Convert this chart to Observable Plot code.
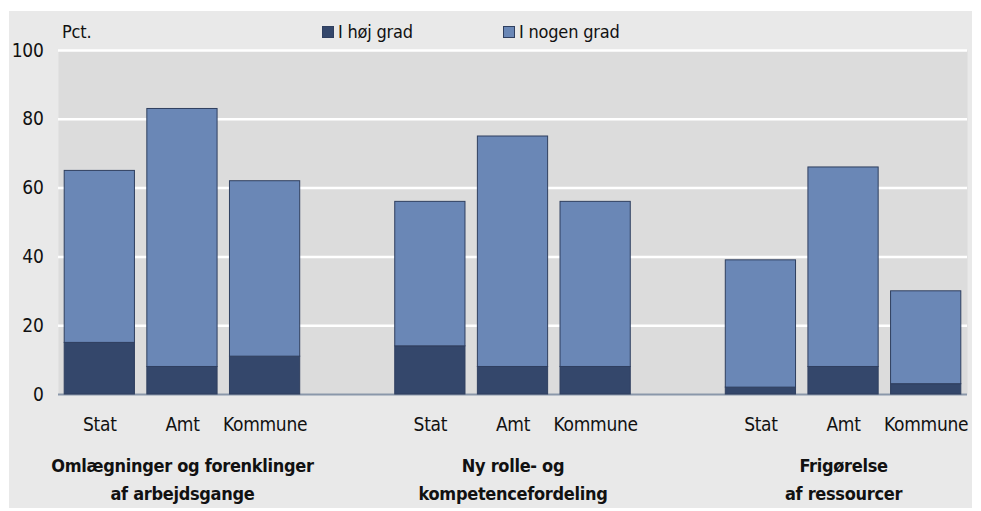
<!DOCTYPE html>
<html>
<head>
<meta charset="utf-8">
<script src="https://cdn.jsdelivr.net/npm/d3@7"></script>
<script src="https://cdn.jsdelivr.net/npm/@observablehq/plot@0.6"></script>
<style>
  body { margin: 0; background: #ffffff; }
  #wrap { position: relative; width: 981px; height: 511px; font-family: "DejaVu Sans Condensed", "DejaVu Sans", sans-serif; }
  #panel { position: absolute; left: 9px; top: 11px; width: 963px; height: 497px; background: #e9e9e9; }
  #chart { position: absolute; left: 0; top: 0; }
  #legendbox { position: absolute; left: 275px; top: 11px; width: 397px; height: 38px; background: #e9e9e9; }
  .lg { position: absolute; top: 21px; font-size: 18px; line-height: 22px; color: #111; display: flex; align-items: center; white-space: nowrap; letter-spacing: -0.2px; }
  .sw { width: 10px; height: 10px; border: 1px solid #2f3f5f; margin-right: 4px; }
  #unit { position: absolute; left: 62px; top: 21px; font-size: 18px; line-height: 22px; color: #111; letter-spacing: -0.2px; }
</style>
</head>
<body>
<div id="wrap">
  <div id="panel"></div>
  <div id="chart"></div>
  <div id="legendbox"></div>
  <div id="unit"></div>
  <div id="legend"></div>
</div>
<script>
// ---- data ----
const categories = ["Stat", "Amt", "Kommune"];
const groups = [
  "Omlægninger og forenklinger\naf arbejdsgange",
  "Ny rolle- og\nkompetencefordeling",
  "Frigørelse\naf ressourcer"
];
const seriesNames = ["I høj grad", "I nogen grad"];
const hojGrad   = [15, 8, 11, 14, 8, 8, 2, 8, 3];
const nogenGrad = [50, 75, 51, 42, 67, 48, 37, 58, 27];
const yTicks = [0, 20, 40, 60, 80, 100];
const unitLabel = "Pct.";
const colors = ["#34476b", "#6a87b6"];

// ---- build table ----
const key = (g, c) => `g${g}-${c}`;
const xDomain = [];
groups.forEach((g, gi) => {
  categories.forEach((c, ci) => xDomain.push(key(gi, ci)));
  if (gi < groups.length - 1) xDomain.push(`sp${gi}`);
});
const rows = [];
groups.forEach((g, gi) => categories.forEach((c, ci) => {
  const i = gi * categories.length + ci;
  rows.push({x: key(gi, ci), series: seriesNames[0], value: hojGrad[i]});
  rows.push({x: key(gi, ci), series: seriesNames[1], value: nogenGrad[i]});
}));
const tickLabel = k => k.startsWith("sp") ? "" : categories[+k.split("-")[1]];

const FONT = '"DejaVu Sans Condensed", "DejaVu Sans", sans-serif';
const chart = Plot.plot({
  width: 981,
  height: 511,
  marginLeft: 58,
  marginRight: 14,
  marginTop: 50,
  marginBottom: 117,
  style: {fontFamily: FONT, fontSize: "19px", background: "transparent", color: "#111", letterSpacing: "-0.3px"},
  x: {domain: xDomain, paddingInner: 0.15, paddingOuter: 0.075, round: false, label: null},
  y: {domain: [0, 100], label: null},
  color: {domain: seriesNames, range: colors},
  marks: [
    Plot.frame({fill: "#dcdcdc", stroke: null}),
    Plot.ruleY(yTicks.filter(d => d > 0), {stroke: "#ffffff", strokeWidth: 2.5}),
    Plot.ruleY([0], {stroke: "#8a97aa", strokeWidth: 2}),
    Plot.barY(rows, Plot.stackY({x: "x", y: "value", fill: "series", stroke: "#2f3f5f", strokeWidth: 1, order: seriesNames})),
    Plot.axisY({ticks: yTicks, tickSize: 0, tickPadding: 15, fontSize: 19}),
    Plot.axisX({tickSize: 0, tickPadding: 23, tickFormat: tickLabel, fontSize: 19}),
    Plot.text(groups, {
      x: (d, i) => key(i, 1),
      text: d => d,
      frameAnchor: "bottom",
      lineAnchor: "top",
      dy: 58,
      lineHeight: 1.55,
      fontWeight: "bold",
      fontSize: 18,
      fill: "#111"
    })
  ]
});
document.getElementById("chart").append(chart);

// legend
const lgPos = [322, 503];
const legend = document.getElementById("legend");
seriesNames.forEach((s, i) => {
  const d = document.createElement("div");
  d.className = "lg";
  d.style.left = lgPos[i] + "px";
  d.innerHTML = `<span class="sw" style="background:${colors[i]}"></span><span></span>`;
  d.lastChild.textContent = s;
  legend.append(d);
});
document.getElementById("unit").textContent = unitLabel;
</script>
</body>
</html>
